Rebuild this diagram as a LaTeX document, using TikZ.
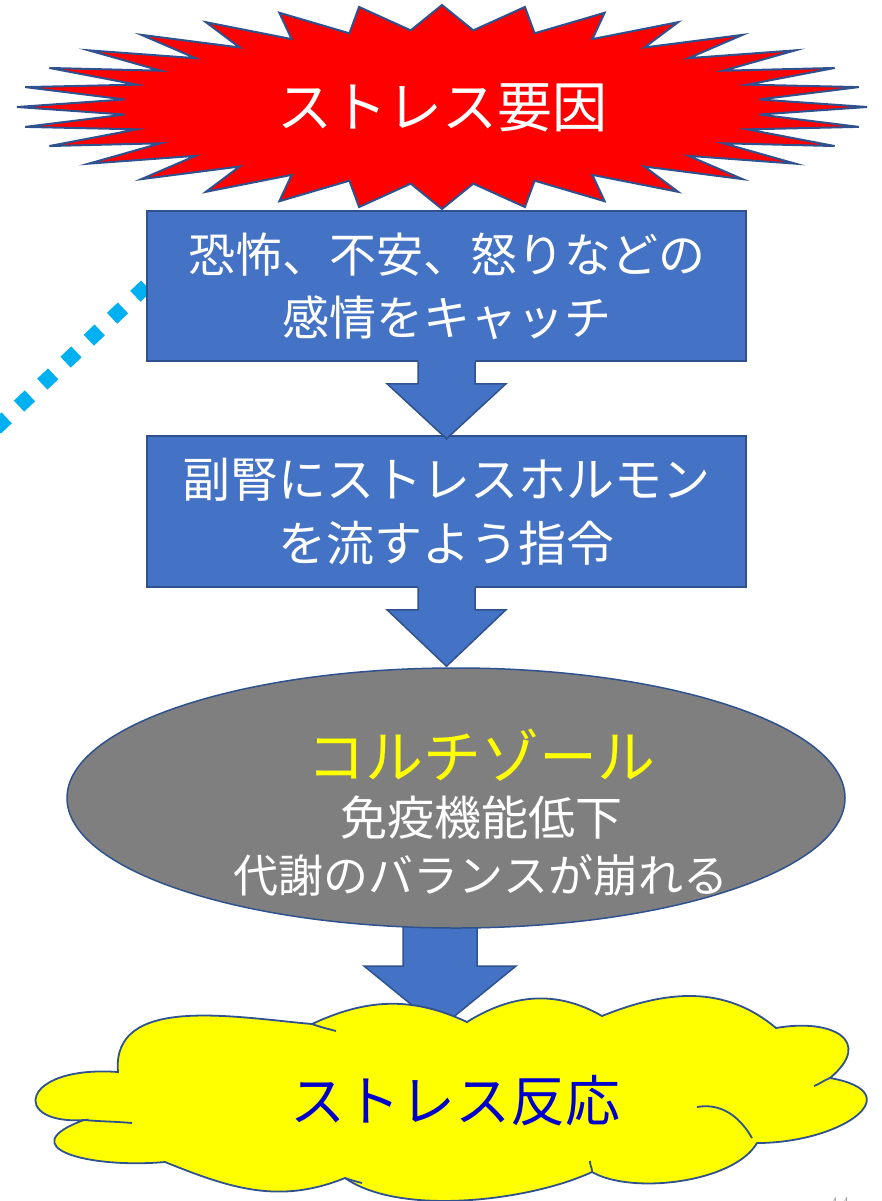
\documentclass[tikz,border=0pt]{standalone}
\usepackage{fontspec}
\newfontfamily\jp{Noto Sans CJK JP}
\usetikzlibrary{calc,shapes.geometric}
\definecolor{obord}{HTML}{2F528F}
\definecolor{oblue}{HTML}{4472C4}
\definecolor{ogray}{HTML}{7F7F7F}
\definecolor{oyel}{HTML}{FFFF00}
\definecolor{ocyan}{HTML}{00B0F0}
\definecolor{dblue}{HTML}{0000CC}
\definecolor{pgray}{HTML}{A0A0A0}
\tikzset{
  boxst/.style={rectangle, draw=obord, line width=1.5pt, fill=oblue, text=white,
    minimum width=599pt, align=center, inner sep=0pt},
  burstst/.style={draw=obord, line width=2pt, fill=red, line join=miter},
  ellst/.style={ellipse, draw=obord, line width=1.5pt, fill=ogray, inner sep=0pt,
    minimum width=778pt, minimum height=260pt},
  cloudst/.style={draw=obord, line width=1.8pt, fill=oyel},
  stubst/.style={draw=obord, line width=1.8pt},
  arrfill/.style={fill=oblue},
  arredge/.style={draw=obord, line width=1.5pt, line join=miter},
  dotline/.style={draw=ocyan, line width=15pt, dash pattern=on 15pt off 17pt},
}
\begin{document}
\begin{tikzpicture}[x=1pt,y=1pt]
\useasboundingbox (0,0) rectangle (882,-1201);
\clip (0,0) rectangle (882,-1201);

% starburst
\draw[burstst] (867,-107)
  \foreach \i in {0,...,31}{
    -- ({442+319*cos(\i*11.25+5.625)},{-107+77*sin(\i*11.25+5.625)})
    -- ({442+425*cos((\i+1)*11.25)},{-107+102*sin((\i+1)*11.25)})
  } -- cycle;
\node[text=white, font=\jp\fontsize{55}{60}\selectfont] (burst) at (442,-108) {ストレス要因};

% dotted line (behind box 1)
\coordinate (dotend) at (-20,-443);
\node[boxst, minimum height=150pt] (box1p) at (446.5,-286) {};
\draw[dotline] (box1p.west) -- (dotend);

% box 1
\node[boxst, minimum height=150pt, font=\jp\fontsize{47}{63}\selectfont] (box1) at (446.5,-286)
  {恐怖、不安、怒りなどの\\感情をキャッチ};

% box 2
\node[boxst, minimum height=151pt, font=\jp\fontsize{48}{64}\selectfont] (box2) at (446.5,-511.5)
  {副腎にストレスホルモン\\を流すよう指令};

% arrow 1
\coordinate (a1s) at (box1.south);
\coordinate (a1t) at ($(box2.north)+(0,-3.5)$);
\fill[arrfill] ($(a1s)+(-28.5,2)$) -- ($(a1s)+(-28.5,-22)$) -- ($(a1s)+(-59.5,-22)$) -- (a1t)
  -- ($(a1s)+(59.5,-22)$) -- ($(a1s)+(28.5,-22)$) -- ($(a1s)+(28.5,2)$) -- cycle;
\draw[arredge] ($(a1s)+(-28.5,0)$) -- ($(a1s)+(-28.5,-22)$) -- ($(a1s)+(-59.5,-22)$) -- (a1t)
  -- ($(a1s)+(59.5,-22)$) -- ($(a1s)+(28.5,-22)$) -- ($(a1s)+(28.5,0)$);

% arrow 3 (behind ellipse and cloud)
\coordinate (a3s) at (440,-928);
\coordinate (a3t) at (440,-1028);
\fill[arrfill] ($(a3s)+(-37,15)$) -- ($(a3s)+(-37,-38)$) -- ($(a3s)+(-76,-38)$) -- (a3t)
  -- ($(a3s)+(76,-38)$) -- ($(a3s)+(37,-38)$) -- ($(a3s)+(37,15)$) -- cycle;
\draw[arredge] ($(a3s)+(-37,15)$) -- ($(a3s)+(-37,-38)$) -- ($(a3s)+(-76,-38)$) -- (a3t)
  -- ($(a3s)+(76,-38)$) -- ($(a3s)+(37,-38)$) -- ($(a3s)+(37,15)$);

% ellipse
\node[ellst] (ell) at (456,-798) {};
\node[text=oyel, font=\jp\fontsize{58}{60}\selectfont] (ctitle) at (481,-755) {コルチゾール};
\node[text=white, font=\jp\fontsize{47}{50}\selectfont] (eline1) at (481,-818) {免疫機能低下};
\node[text=white, font=\jp\fontsize{45}{50}\selectfont] (eline2) at (481,-875) {代謝のバランスが崩れる};

% arrow 2
\coordinate (a2s) at (box2.south);
\coordinate (a2t) at ($(a2s |- ell.north)+(0,1)$);
\fill[arrfill] ($(a2s)+(-28.5,2)$) -- ($(a2s)+(-28.5,-22)$) -- ($(a2s)+(-59.5,-22)$) -- (a2t)
  -- ($(a2s)+(59.5,-22)$) -- ($(a2s)+(28.5,-22)$) -- ($(a2s)+(28.5,2)$) -- cycle;
\draw[arredge] ($(a2s)+(-28.5,0)$) -- ($(a2s)+(-28.5,-22)$) -- ($(a2s)+(-59.5,-22)$) -- (a2t)
  -- ($(a2s)+(59.5,-22)$) -- ($(a2s)+(28.5,-22)$) -- ($(a2s)+(28.5,0)$);

% cloud
\draw[cloudst] (118,-1072)
  to[out=95,in=175] (312,-1024)
  to[out=25,in=155] (467,-1022)
  to[out=32,in=150] (602,-1016)
  to[out=22,in=140] (776,-1028)
  to[out=10,in=40,looseness=2] (830,-1078)
  to[out=-10,in=0,looseness=2.2] (757,-1143)
  to[out=-120,in=-30,looseness=0.7] (592,-1172)
  to[out=-155,in=-35,looseness=0.7] (345,-1178)
  to[out=-158,in=-22] (165,-1162)
  to[out=185,in=200,looseness=2.2] (84,-1120)
  .. controls (10,-1125) and (20,-1065) .. (118,-1072) -- cycle;
\draw[stubst] (312,-1024) to[out=-20,in=165] (336,-1031);
\draw[stubst] (830,-1078) to[out=200,in=20] (814,-1086);
\draw[stubst] (697,-1107) to[out=10,in=120] (752,-1138);
\draw[stubst] (84,-1120) to[out=-5,in=175] (132,-1123);
\draw[stubst] (345,-1178) to[out=-20,in=165] (362,-1183);
\draw[stubst] (592,-1172) to[out=85,in=-95] (590,-1161);
\node[text=dblue, font=\jp\fontsize{55}{60}\selectfont] (resp) at (455,-1101) {ストレス反応};

% page number (cut off, as in the reference)
\node[anchor=base, text=pgray, font=\fontsize{24}{26}\selectfont, inner sep=0pt] (pnum) at (839,-1213.5) {44};
\end{tikzpicture}
\end{document}
